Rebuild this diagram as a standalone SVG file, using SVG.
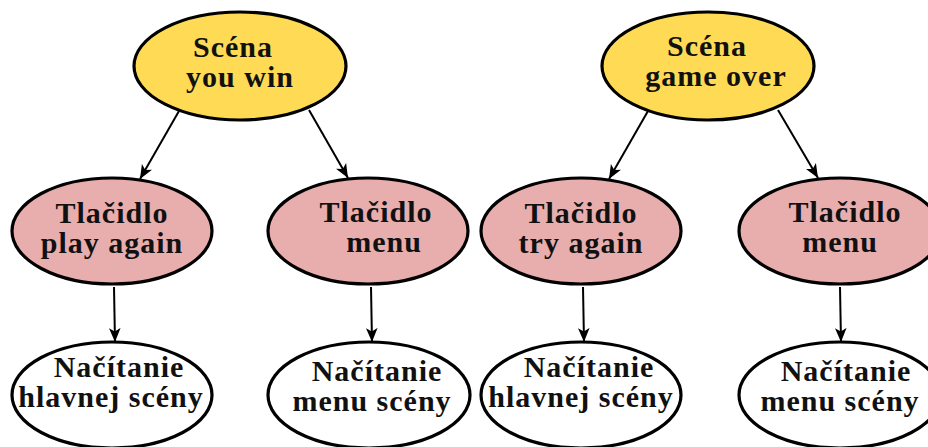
<svg xmlns="http://www.w3.org/2000/svg" width="928" height="447" viewBox="0 0 928 447">
<style>
.n{stroke:#000;stroke-width:3.2}
.y{fill:#FFDB55}
.p{fill:#E8ADAD}
.w{fill:#FFFFFF}
text{font-family:"Liberation Serif","DejaVu Serif",serif;font-weight:bold;font-size:30px;letter-spacing:1px;fill:#111;text-anchor:middle}
.e{stroke:#000;stroke-width:2;fill:none;marker-end:url(#ah)}
</style>
<defs>
<marker id="ah" viewBox="0 0 12 10" refX="12" refY="5" markerWidth="14" markerHeight="12" markerUnits="userSpaceOnUse" orient="auto">
<path d="M0,0 L12,5 L0,10 L3,5 Z" fill="#000"/>
</marker>
</defs>
<rect width="928" height="447" fill="#fff"/>
<g id="connectors">
<line class="e" x1="179" y1="111" x2="140" y2="179"/>
<line class="e" x1="309" y1="110" x2="348" y2="178"/>
<line class="e" x1="648" y1="111" x2="609" y2="179"/>
<line class="e" x1="778" y1="110" x2="818" y2="178"/>
<line class="e" x1="114" y1="287" x2="115" y2="342"/>
<line class="e" x1="371" y1="287" x2="372" y2="342"/>
<line class="e" x1="583" y1="287" x2="584" y2="342"/>
<line class="e" x1="840" y1="287" x2="841" y2="342"/>
</g>
<g id="scena-you-win">
<ellipse class="n y" cx="240" cy="66" rx="106" ry="54"/>
<text x="233" y="57">Scéna</text>
<text x="240" y="87">you win</text>
</g>
<g id="scena-game-over">
<ellipse class="n y" cx="708" cy="66" rx="106" ry="54"/>
<text x="707" y="56">Scéna</text>
<text x="716" y="86">game over</text>
</g>
<g id="tlacidlo-play-again">
<ellipse class="n p" cx="112" cy="231" rx="100" ry="53"/>
<text x="112" y="223">Tlačidlo</text>
<text x="112" y="253">play again</text>
</g>
<g id="tlacidlo-menu-1">
<ellipse class="n p" cx="368" cy="231" rx="100" ry="53"/>
<text x="376" y="222">Tlačidlo</text>
<text x="384" y="252">menu</text>
</g>
<g id="tlacidlo-try-again">
<ellipse class="n p" cx="581" cy="231" rx="100" ry="53"/>
<text x="581" y="223">Tlačidlo</text>
<text x="581" y="253">try again</text>
</g>
<g id="tlacidlo-menu-2">
<ellipse class="n p" cx="840" cy="231" rx="101" ry="53"/>
<text x="845" y="222">Tlačidlo</text>
<text x="840" y="252">menu</text>
</g>
<g id="nacitanie-hlavnej-1">
<ellipse class="n w" cx="112" cy="395" rx="100" ry="53"/>
<text x="119" y="377">Načítanie</text>
<text x="111" y="407">hlavnej scény</text>
</g>
<g id="nacitanie-menu-1">
<ellipse class="n w" cx="369" cy="395" rx="101" ry="53"/>
<text x="377" y="381">Načítanie</text>
<text x="372" y="411">menu scény</text>
</g>
<g id="nacitanie-hlavnej-2">
<ellipse class="n w" cx="581" cy="395" rx="100" ry="53"/>
<text x="589" y="377">Načítanie</text>
<text x="581" y="407">hlavnej scény</text>
</g>
<g id="nacitanie-menu-2">
<ellipse class="n w" cx="840" cy="395" rx="101" ry="53"/>
<text x="846" y="381">Načítanie</text>
<text x="840" y="411">menu scény</text>
</g>
</svg>
